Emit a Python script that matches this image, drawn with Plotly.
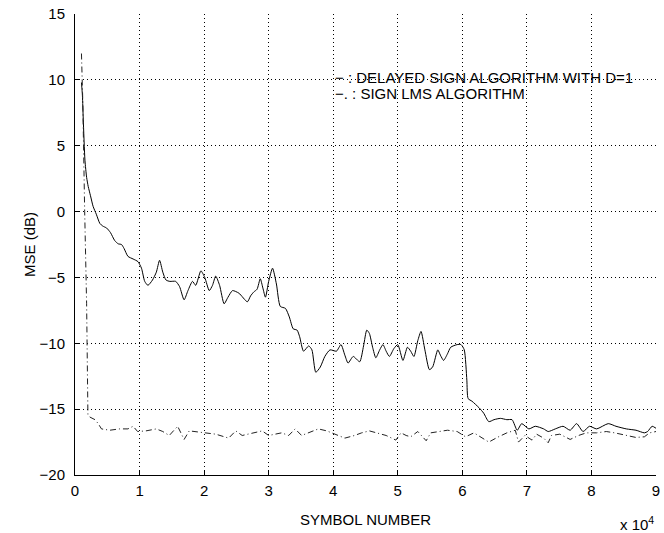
import plotly.graph_objects as go

# Symbol index in units of 10^4 symbols, MSE in dB
dsa_sym = [0.10, 0.115, 0.128, 0.154, 0.18, 0.205, 0.24, 0.28, 0.33, 0.385, 0.43, 0.49, 0.55,
           0.615, 0.67, 0.72, 0.76, 0.82, 0.90, 0.975, 1.03, 1.08, 1.13, 1.20, 1.26, 1.31, 1.36,
           1.41, 1.47, 1.56, 1.62, 1.69, 1.75, 1.82, 1.87, 1.95, 2.01, 2.08, 2.13, 2.18, 2.24,
           2.31, 2.37, 2.44, 2.54, 2.67, 2.72, 2.77, 2.82, 2.87, 2.91, 2.95, 3.00, 3.06, 3.12,
           3.18, 3.26, 3.32, 3.38, 3.44, 3.48, 3.54, 3.62, 3.67, 3.73, 3.80, 3.87, 3.95, 4.05,
           4.12, 4.18, 4.23, 4.31, 4.41, 4.47, 4.52, 4.56, 4.61, 4.66, 4.72, 4.77, 4.82, 4.87,
           4.94, 5.00, 5.08, 5.15, 5.20, 5.25, 5.31, 5.36, 5.42, 5.49, 5.54, 5.62, 5.66, 5.71,
           5.77, 5.82, 5.92, 5.98, 6.03, 6.07, 6.09, 6.15, 6.26, 6.33, 6.41, 6.49, 6.59, 6.69,
           6.77, 6.85, 6.92, 7.03, 7.13, 7.26, 7.33, 7.44, 7.56, 7.67, 7.77, 7.87, 7.97, 8.08,
           8.26, 8.38, 8.54, 8.69, 8.82, 8.87, 8.94, 9.00]
dsa_mse = [9.8, 8.8, 7.0, 3.9, 2.6, 1.9, 1.2, 0.4, -0.2, -0.9, -1.1, -1.25, -1.6,
           -2.2, -2.45, -2.5, -2.8, -3.4, -3.6, -3.8, -4.3, -5.3, -5.6, -5.2, -4.6, -3.7, -4.6,
           -5.2, -5.3, -5.3, -5.7, -6.7, -6.0, -5.3, -5.6, -4.5, -5.0, -6.0, -5.6, -4.9, -5.6,
           -7.0, -6.5, -6.0, -6.2, -6.85, -6.4, -6.1, -5.9, -5.1, -5.8, -6.5, -5.3, -4.3, -5.5,
           -7.2, -7.35, -8.0, -8.9, -9.0, -9.5, -10.6, -10.2, -10.5, -12.2, -11.8, -11.0, -10.5, -10.6,
           -10.1, -10.9, -11.5, -11.0, -11.4, -10.2, -9.0, -9.25, -10.3, -11.1, -10.5, -10.1, -10.6, -11.0,
           -10.4, -10.1, -11.3, -10.3, -10.6, -11.0, -9.8, -9.1, -10.5, -12.0, -11.8, -10.5, -10.9, -11.3,
           -10.8, -10.3, -10.1, -10.1, -10.5, -12.8, -14.2, -14.4, -14.9, -15.3, -15.95, -15.8, -15.7, -15.8,
           -15.8, -16.6, -16.1, -16.5, -16.3, -16.5, -16.7, -16.5, -16.3, -16.6, -16.1, -16.7, -16.3, -16.5,
           -16.1, -16.3, -16.5, -16.6, -16.8, -16.7, -16.3, -16.45]

lms_sym = [0.10, 0.12, 0.15, 0.18, 0.20, 0.23, 0.31, 0.36, 0.41, 0.54, 0.69, 0.82, 0.90, 0.97,
           1.10, 1.26, 1.36, 1.46, 1.59, 1.69, 1.77, 1.97, 2.18, 2.38, 2.49, 2.59, 2.80, 2.90,
           3.00, 3.20, 3.31, 3.41, 3.51, 3.62, 3.77, 3.90, 4.03, 4.18, 4.33, 4.44, 4.56, 4.69,
           4.82, 4.97, 5.05, 5.13, 5.20, 5.31, 5.44, 5.51, 5.77, 5.92, 6.05, 6.18, 6.28, 6.41,
           6.54, 6.69, 6.82, 6.87, 6.97, 7.08, 7.15, 7.26, 7.33, 7.38, 7.51, 7.67, 7.80, 7.92,
           8.08, 8.23, 8.36, 8.54, 8.69, 8.82, 8.90, 9.00]
lms_mse = [12.0, 8.5, 0.0, -7.0, -15.4, -15.6, -15.8, -16.1, -16.5, -16.6, -16.5, -16.5, -16.3, -16.7,
           -16.65, -16.5, -16.7, -17.0, -16.3, -17.3, -16.65, -16.8, -16.9, -17.2, -16.65, -17.0, -16.8, -16.65,
           -17.0, -16.8, -17.0, -16.5, -17.0, -16.8, -16.5, -16.65, -16.9, -17.2, -17.0, -16.8, -16.65, -16.8,
           -17.0, -17.35, -16.8, -17.0, -17.1, -16.7, -17.4, -16.8, -16.6, -16.7, -17.1, -16.8, -17.1, -17.5,
           -17.15, -16.8, -16.6, -17.5, -17.0, -17.35, -16.9, -17.2, -17.55, -17.0, -16.9, -17.3, -17.0, -16.8,
           -16.8, -16.7, -16.8, -17.0, -17.15, -17.1, -16.8, -16.7]

x_ticks = [0, 1, 2, 3, 4, 5, 6, 7, 8, 9]
y_ticks = [-20, -15, -10, -5, 0, 5, 10, 15]

legend_lines = ["\u2212 : DELAYED SIGN ALGORITHM WITH D=1", "\u2212. : SIGN LMS ALGORITHM"]

FONT = "Liberation Sans, Arial, Helvetica, sans-serif"
FS = 15

fig = go.Figure()
fig.add_trace(go.Scatter(x=dsa_sym, y=dsa_mse, mode="lines",
                         line=dict(color="black", width=1, shape="spline", smoothing=0.6),
                         showlegend=False))
fig.add_trace(go.Scatter(x=lms_sym, y=lms_mse, mode="lines",
                         line=dict(color="#222222", width=1, dash="6px,3px,1px,3px"),
                         showlegend=False))

axis_common = dict(showgrid=True, gridcolor="black", gridwidth=1, griddash="1px,3px",
                   ticks="inside", ticklen=5, tickcolor="black", tickwidth=1,
                   showline=True, linecolor="black", linewidth=1, zeroline=False,
                   ticklabeloverflow="allow",
                   tickfont=dict(family=FONT, size=FS, color="black"))

fig.update_xaxes(range=[0, 9], tickvals=x_ticks, ticktext=[str(v) for v in x_ticks],
                 ticklabelstandoff=2, **axis_common)
fig.update_yaxes(range=[-20, 15], tickvals=y_ticks, ticklabelstandoff=6, **axis_common)

# legend rows placed in data coordinates near the top of the plot
leg_x = 4.0
leg_y = [10.2, 9.0]

fig.update_layout(
    width=664, height=533,
    margin=dict(l=75, r=4, t=14, b=58),
    paper_bgcolor="white", plot_bgcolor="white",
    font=dict(family=FONT, size=FS, color="black"),
    annotations=[
        dict(text="SYMBOL NUMBER", xref="paper", yref="paper", x=0.5, y=0,
             yanchor="middle", yshift=-44, showarrow=False, font=dict(size=FS)),
        dict(text="x 10<sup>4</sup>", xref="paper", yref="paper", x=1, y=0, xanchor="right",
             yanchor="middle", yshift=-48, showarrow=False, font=dict(size=FS)),
        dict(text="MSE (dB)", xref="paper", yref="paper", x=0, y=0.5, xshift=-56,
             textangle=-90, showarrow=False, font=dict(size=FS)),
        dict(text=legend_lines[0], xref="x", yref="y", x=leg_x, y=leg_y[0],
             xanchor="left", yanchor="middle", showarrow=False, font=dict(size=FS)),
        dict(text=legend_lines[1], xref="x", yref="y", x=leg_x, y=leg_y[1],
             xanchor="left", yanchor="middle", showarrow=False, font=dict(size=FS)),
    ],
)

fig.write_html("out.html")
